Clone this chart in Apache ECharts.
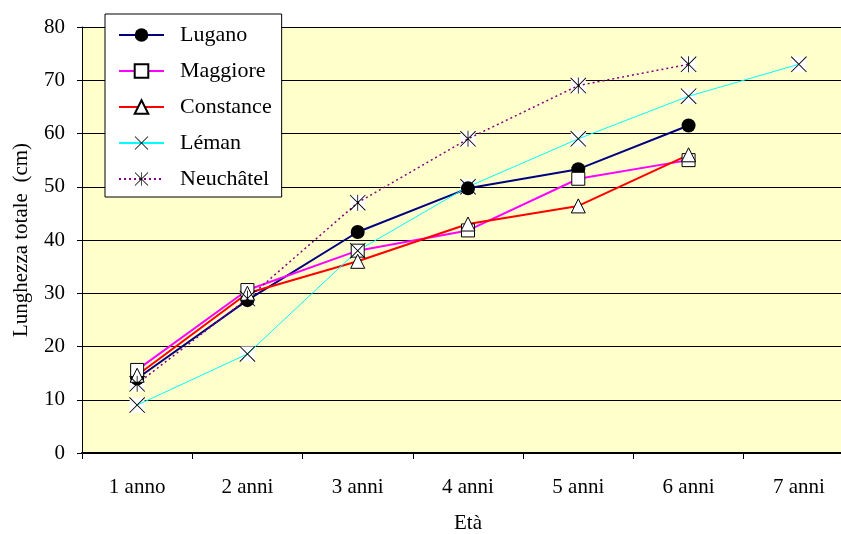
<!DOCTYPE html>
<html>
<head>
<meta charset="utf-8">
<script src="https://cdn.jsdelivr.net/npm/echarts@6/dist/echarts.min.js"></script>
<style>
  html, body { margin: 0; padding: 0; background: #ffffff; }
  #chart { width: 841px; height: 534px; }
</style>
</head>
<body>
<div id="chart"></div>
<script>
// Age classes and mean total length (cm) per lake
const categories = ['1 anno', '2 anni', '3 anni', '4 anni', '5 anni', '6 anni', '7 anni'];
const lugano    = [14, 28.7, 41.5, 49.7, 53.3, 61.5, null];
const maggiore  = [15.6, 30.6, 38, 41.8, 51.5, 55, null];
const constance = [14.6, 30, 36, 43, 46.4, 56, null];
const leman     = [9, 18.6, 38, 50, 59, 67, 73];
const neuchatel = [13, 29, 47, 59, 69, 73, null];
const yTicks = [0, 10, 20, 30, 40, 50, 60, 70, 80];

// Marker shapes: a thin "×" and a six-armed asterisk (20×20 box)
const crossPath = 'path://M0,0.8 L0.8,0 L20,19.2 L19.2,20 Z M19.2,0 L20,0.8 L0.8,20 L0,19.2 Z';
const starPath = 'path://M0,0.8 L0.8,0 L20,19.2 L19.2,20 Z M19.2,0 L20,0.8 L0.8,20 L0,19.2 Z M9.5,0 L10.5,0 L10.5,20 L9.5,20 Z';

const FONT = 'Liberation Serif';

function lineSeries(name, data, color, width, type, symbol, size, fill, border) {
  return {
    name: name,
    type: 'line',
    data: data,
    symbol: symbol,
    symbolSize: size,
    showAllSymbol: true,
    connectNulls: false,
    z: 3,
    lineStyle: { color: color, width: width, type: type },
    itemStyle: { color: fill, borderColor: border, borderWidth: border ? 1 : 0 },
    emphasis: { disabled: true }
  };
}

// White patches behind the cross-shaped markers
function backing(data) {
  return {
    type: 'line',
    data: data,
    symbol: 'rect',
    symbolSize: 15,
    showAllSymbol: true,
    lineStyle: { opacity: 0 },
    itemStyle: { color: '#ffffff' },
    z: 2,
    silent: true
  };
}

const chart = echarts.init(document.getElementById('chart'));
chart.setOption({
  animation: false,
  backgroundColor: '#ffffff',
  textStyle: { fontFamily: FONT },
  grid: {
    left: 82, top: 27, width: 772, height: 426,
    outerBoundsMode: 'none', containLabel: false,
    show: true, backgroundColor: '#FFFFCC', borderWidth: 0
  },
  legend: {
    data: ['Lugano', 'Maggiore', 'Constance', 'Léman', 'Neuchâtel'],
    orient: 'vertical',
    left: 105,
    top: 14,
    itemWidth: 45,
    itemHeight: 17,
    itemGap: 14,
    backgroundColor: '#ffffff',
    borderColor: '#000000',
    borderWidth: 1,
    borderRadius: 0,
    padding: [10, 10, 7, 13],
    textStyle: { fontFamily: FONT, fontSize: 22, lineHeight: 22, color: '#000000', padding: [0, 0, 0, 11] }
  },
  xAxis: {
    type: 'category',
    data: categories,
    boundaryGap: true,
    name: 'Età',
    nameLocation: 'middle',
    nameGap: 60,
    nameTextStyle: { fontFamily: FONT, fontSize: 21, color: '#000000' },
    axisLine: { lineStyle: { color: '#000000', width: 2 } },
    axisTick: { show: true, length: 6, lineStyle: { color: '#000000' } },
    axisLabel: { fontFamily: FONT, fontSize: 21, color: '#000000', margin: 24 },
    splitLine: { show: false }
  },
  yAxis: {
    type: 'value',
    min: yTicks[0],
    max: yTicks[yTicks.length - 1],
    interval: 10,
    name: 'Lunghezza totale  (cm)',
    nameLocation: 'middle',
    nameGap: 50,
    nameTextStyle: { fontFamily: FONT, fontSize: 21, color: '#000000' },
    axisLine: { show: true, lineStyle: { color: '#000000', width: 1 } },
    axisTick: { show: true, length: 5, lineStyle: { color: '#000000' } },
    axisLabel: { fontFamily: FONT, fontSize: 21, color: '#000000', margin: 17 },
    splitLine: { show: true, lineStyle: { color: '#000000', width: 1 } }
  },
  series: [
    backing(leman),
    backing(neuchatel),
    lineSeries('Lugano', lugano, '#000080', 2, 'solid', 'circle', 14, '#000000', null),
    lineSeries('Maggiore', maggiore, '#FF00FF', 2, 'solid', 'rect', 13, '#ffffff', '#000000'),
    lineSeries('Constance', constance, '#FF0000', 2, 'solid', 'triangle', 14, '#ffffff', '#000000'),
    lineSeries('Léman', leman, '#00FFFF', 1, 'solid', crossPath, 16, '#000000', null),
    lineSeries('Neuchâtel', neuchatel, '#800080', 1.5, [2, 3], starPath, 16, '#000000', null)
  ]
});
</script>
</body>
</html>
